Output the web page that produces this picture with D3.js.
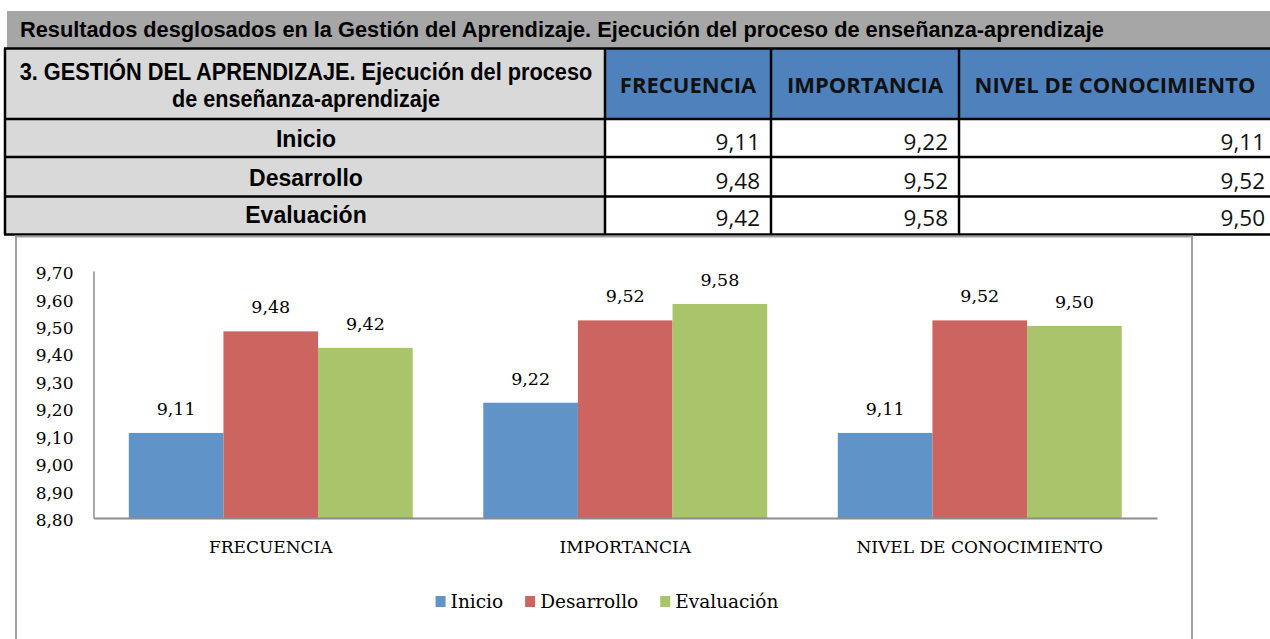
<!DOCTYPE html>
<html>
<head>
<meta charset="utf-8">
<script src="https://cdn.jsdelivr.net/npm/d3@7"></script>
<style>
  html, body { margin: 0; padding: 0; background: #fff; }
  svg { display: block; }
</style>
</head>
<body>
<svg id="chart" width="1270" height="639"></svg>
<script>
// ---- Data ----
const tableTitle = "Resultados desglosados en la Gestión del Aprendizaje. Ejecución del proceso de enseñanza-aprendizaje";
const headerLine1 = "3. GESTIÓN DEL APRENDIZAJE. Ejecución del proceso";
const headerLine2 = "de enseñanza-aprendizaje";
const categories = ["FRECUENCIA", "IMPORTANCIA", "NIVEL DE CONOCIMIENTO"];
const seriesNames = ["Inicio", "Desarrollo", "Evaluación"];
const inicio = [9.11, 9.22, 9.11];
const desarrollo = [9.48, 9.52, 9.52];
const evaluacion = [9.42, 9.58, 9.50];
const yTicks = [8.80, 8.90, 9.00, 9.10, 9.20, 9.30, 9.40, 9.50, 9.60, 9.70];
const colors = ["#6094c9", "#cc6560", "#aac46b"];

const seriesValues = [inicio, desarrollo, evaluacion];
const locale = d3.formatLocale({decimal: ",", thousands: ".", grouping: [3], currency: ["", "€"]});
const fmt = locale.format(".2f");

const svg = d3.select("#chart");

// ---- Table ----
const narrow = "'Liberation Sans Narrow', 'Arial Narrow', 'Liberation Sans', Arial, sans-serif";
const calibri = "'Open Sans', 'Lato', sans-serif";
const colX = [5, 605, 771, 959, 1277];
const rowY = [48.5, 119, 157, 196.5, 234.5];

// condensed text: draw at natural size then squeeze horizontally to target width
function narrowText(parent, str, cx, baseline, size, targetWidth, anchor) {
  const t = parent.append("text")
    .attr("font-family", narrow).attr("font-weight", "bold").attr("font-size", size)
    .attr("fill", "#000").attr("text-anchor", anchor).text(str);
  const w = t.node().getComputedTextLength();
  const s = Math.min(1, targetWidth / w);
  t.attr("transform", `translate(${cx},${baseline}) scale(${s},1)`);
  return t;
}

svg.append("rect").attr("x", 7).attr("y", 11).attr("width", 1263).attr("height", 37).attr("fill", "#a6a6a6");
narrowText(svg, tableTitle, 20, 37, 23, 1085, "start");

const tbl = svg.append("g");
tbl.append("rect").attr("x", colX[0]).attr("y", rowY[0]).attr("width", colX[1] - colX[0]).attr("height", rowY[4] - rowY[0]).attr("fill", "#d9d9d9");
tbl.append("rect").attr("x", colX[1]).attr("y", rowY[0]).attr("width", colX[4] - colX[1]).attr("height", rowY[1] - rowY[0]).attr("fill", "#4f81bd");
tbl.append("rect").attr("x", colX[1]).attr("y", rowY[1]).attr("width", colX[4] - colX[1]).attr("height", rowY[4] - rowY[1]).attr("fill", "#fff");

const midFirst = (colX[0] + colX[1]) / 2;
narrowText(tbl, headerLine1, midFirst + 1, 80, 24, 573, "middle");
narrowText(tbl, headerLine2, midFirst + 1, 107, 24, 268, "middle");

categories.forEach((c, i) => {
  tbl.append("text").attr("x", (colX[i + 1] + colX[i + 2]) / 2 + (i === 2 ? -3 : 0)).attr("y", 93)
    .attr("text-anchor", "middle").attr("font-family", calibri).attr("font-weight", "bold")
    .attr("font-size", 22).attr("fill", "#111").text(c);
});

const rowBase = [150, 188.5, 226];
seriesNames.forEach((s, r) => {
  tbl.append("text").attr("x", midFirst + 1).attr("y", rowBase[r] - 3).attr("text-anchor", "middle")
    .attr("font-family", narrow).attr("font-weight", "bold").attr("font-size", 23).text(s);
  categories.forEach((c, i) => {
    const right = i === 2 ? 1265 : colX[i + 2] - 11;
    tbl.append("text").attr("x", right).attr("y", rowBase[r]).attr("text-anchor", "end")
      .attr("font-family", calibri).attr("font-size", 22.5).attr("fill", "#111")
      .text(fmt(seriesValues[r][i]));
  });
});

rowY.forEach(y => tbl.append("line").attr("x1", colX[0] - 1).attr("x2", 1270).attr("y1", y).attr("y2", y)
  .attr("stroke", "#000").attr("stroke-width", 2.5));
colX.slice(0, 4).forEach(x => tbl.append("line").attr("x1", x).attr("x2", x).attr("y1", rowY[0]).attr("y2", rowY[4])
  .attr("stroke", "#000").attr("stroke-width", 2.5));

// ---- Chart frame ----
svg.append("rect").attr("x", 16).attr("y", 236.5).attr("width", 1176).attr("height", 420)
  .attr("fill", "none").attr("stroke", "#a0a0a0").attr("stroke-width", 2);

// ---- Chart ----
const serif = "'DejaVu Serif', serif";
const plot = {left: 93.5, right: 1157, top: 271, bottom: 518};

const y = d3.scaleLinear().domain([8.8, 9.7]).range([plot.bottom, plot.top]);
const x0 = d3.scaleBand().domain(categories).range([plot.left, plot.right]).padding(0);
const x1 = d3.scaleBand().domain(seriesNames).range([0, x0.bandwidth()]).paddingInner(0).paddingOuter(0.373);

const g = svg.append("g");

const data = [];
categories.forEach((c, i) => seriesNames.forEach((s, j) => data.push({cat: c, ser: s, j, v: seriesValues[j][i]})));

g.selectAll("rect.bar").data(data).enter().append("rect")
  .attr("class", "bar")
  .attr("x", d => x0(d.cat) + x1(d.ser))
  .attr("y", d => y(d.v))
  .attr("width", x1.bandwidth())
  .attr("height", d => y(8.8) - y(d.v))
  .attr("fill", d => colors[d.j]);

g.selectAll("text.lbl").data(data).enter().append("text")
  .attr("class", "lbl")
  .attr("x", d => x0(d.cat) + x1(d.ser) + x1.bandwidth() / 2)
  .attr("y", d => y(d.v) - 18)
  .attr("text-anchor", "middle")
  .attr("font-family", serif).attr("font-size", 17.5).attr("fill", "#000")
  .text(d => fmt(d.v));

const yAxis = d3.axisLeft(y).tickValues(yTicks).tickSize(0).tickPadding(20).tickFormat(fmt);
const yg = svg.append("g").attr("transform", `translate(${plot.left},0)`).call(yAxis);
yg.select(".domain").attr("stroke", "#8c8c8c").attr("stroke-width", 1.5);
yg.selectAll("text").attr("font-family", serif).attr("font-size", 17).attr("fill", "#000").attr("dy", "0.45em");

const xAxis = d3.axisBottom(x0).tickSize(0).tickPadding(23);
const xg = svg.append("g").attr("transform", `translate(0,${plot.bottom})`).call(xAxis);
xg.select(".domain").attr("stroke", "#8c8c8c").attr("stroke-width", 1.8);
xg.selectAll("text").attr("font-family", serif).attr("font-size", 17).attr("fill", "#000");

// legend
const leg = svg.append("g");
const items = leg.selectAll("g").data(seriesNames).enter().append("g");
items.append("rect").attr("width", 10).attr("height", 11).attr("y", 596).attr("fill", (d, i) => colors[i]);
items.append("text").attr("x", 15).attr("y", 608).attr("font-family", serif).attr("font-size", 18.5).text(d => d);
let widths = [];
items.each(function () { widths.push(15 + this.querySelector("text").getComputedTextLength()); });
const gap = 22;
const total = d3.sum(widths) + gap * (widths.length - 1);
let cx = 607 - total / 2;
items.each(function (d, i) { d3.select(this).attr("transform", `translate(${cx},0)`); cx += widths[i] + gap; });
</script>
</body>
</html>
